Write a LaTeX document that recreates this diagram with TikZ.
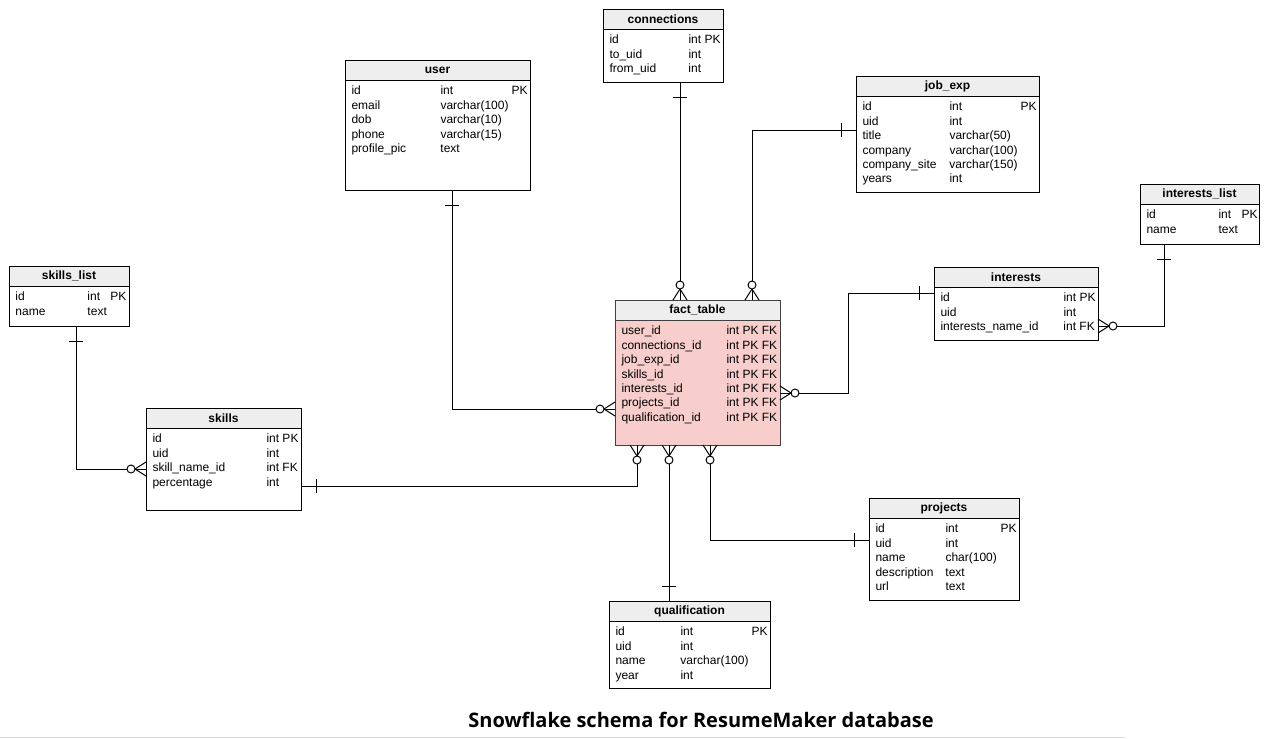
\documentclass[tikz,border=0pt]{standalone}
\usepackage{fontspec}
\setmainfont{Liberation Sans}
\newfontfamily\titlefont{Open Sans}
\definecolor{hdgray}{HTML}{EEEEEE}
\definecolor{factpink}{HTML}{F8CECC}
\setlength\tabcolsep{0pt}
\newcommand\tblfont{\fontsize{12}{14.4}\selectfont}

\begin{document}
\begin{tikzpicture}[x=1pt, y=-1pt, line width=1pt,
  tbl/.style={draw, fill=white, inner sep=0pt, outer sep=0pt},
  tblhead/.style={draw, fill=hdgray, inner sep=0pt, outer sep=0pt, minimum height=20pt, anchor=north, font=\tblfont\bfseries},
  tblrows/.style={anchor=north west, inner xsep=6pt, inner ysep=4.3pt, font=\tblfont},
  oneend/.pic={\draw (15,-7) -- (15,7);},
  manyopt/.pic={\draw (0,-7) -- (11,0) -- (0,7); \draw[fill=white] (15,0) circle (4pt);}
]
\fill[white] (0,0) rectangle (1270,739);
\useasboundingbox (0,0) rectangle (1270,739);

% tables
\node[tbl, minimum width=185pt, minimum height=130pt] (user) at (437.5,125) {};
\node[tblhead, minimum width=185pt] (userhead) at (user.north) {user};
\node[tblrows] at (userhead.south west) {\begin{tabular}{p{89pt}p{71pt}r}
id & int & PK\\ email & varchar(100) & \\ dob & varchar(10) & \\ phone & varchar(15) & \\ profile\_pic & text &
\end{tabular}};

\node[tbl, minimum width=120pt, minimum height=73pt] (connections) at (663,45.5) {};
\node[tblhead, minimum width=120pt] (connectionshead) at (connections.north) {connections};
\node[tblrows] at (connectionshead.south west) {\begin{tabular}{p{79pt}l}
id & int PK\\ to\_uid & int\\ from\_uid & int
\end{tabular}};

\node[tbl, minimum width=183pt, minimum height=116pt] (job_exp) at (947.5,134) {};
\node[tblhead, minimum width=183pt] (job_exphead) at (job_exp.north) {job\_exp};
\node[tblrows] at (job_exphead.south west) {\begin{tabular}{p{87pt}p{71pt}r}
id & int & PK\\ uid & int & \\ title & varchar(50) & \\ company & varchar(100) & \\ company\_site & varchar(150) & \\ years & int &
\end{tabular}};

\node[tbl, minimum width=119pt, minimum height=60pt] (interests_list) at (1199.5,214) {};
\node[tblhead, minimum width=119pt] (interests_listhead) at (interests_list.north) {interests\_list};
\node[tblrows] at (interests_listhead.south west) {\begin{tabular}{p{72pt}p{23pt}l}
id & int & PK\\ name & text &
\end{tabular}};

\node[tbl, minimum width=120pt, minimum height=60pt] (skills_list) at (69,296) {};
\node[tblhead, minimum width=120pt] (skills_listhead) at (skills_list.north) {skills\_list};
\node[tblrows] at (skills_listhead.south west) {\begin{tabular}{p{72pt}p{23pt}l}
id & int & PK\\ name & text &
\end{tabular}};

\node[tbl, minimum width=155pt, minimum height=102pt] (skills) at (223.5,459) {};
\node[tblhead, minimum width=155pt] (skillshead) at (skills.north) {skills};
\node[tblrows] at (skillshead.south west) {\begin{tabular}{p{114pt}l}
id & int PK\\ uid & int\\ skill\_name\_id & int FK\\ percentage & int
\end{tabular}};

\node[tbl, draw=black!75, fill=factpink, minimum width=165pt, minimum height=145pt] (fact) at (697.5,372.5) {};
\node[tblhead, draw=black!75, minimum width=165pt] (facthead) at (fact.north) {fact\_table};
\node[tblrows] at (facthead.south west) {\begin{tabular}{p{105pt}l}
user\_id & int PK FK\\ connections\_id & int PK FK\\ job\_exp\_id & int PK FK\\ skills\_id & int PK FK\\
interests\_id & int PK FK\\ projects\_id & int PK FK\\ qualification\_id & int PK FK
\end{tabular}};

\node[tbl, minimum width=164pt, minimum height=73pt] (interests) at (1016,303.5) {};
\node[tblhead, minimum width=164pt] (interestshead) at (interests.north) {interests};
\node[tblrows] at (interestshead.south west) {\begin{tabular}{p{123pt}l}
id & int PK\\ uid & int\\ interests\_name\_id & int FK
\end{tabular}};

\node[tbl, minimum width=150pt, minimum height=102pt] (projects) at (944,549) {};
\node[tblhead, minimum width=150pt] (projectshead) at (projects.north) {projects};
\node[tblrows] at (projectshead.south west) {\begin{tabular}{p{70pt}p{55pt}r}
id & int & PK\\ uid & int & \\ name & char(100) & \\ description & text & \\ url & text &
\end{tabular}};

\node[tbl, minimum width=161pt, minimum height=87pt] (qualification) at (689.5,644.5) {};
\node[tblhead, minimum width=161pt] (qualificationhead) at (qualification.north) {qualification};
\node[tblrows] at (qualificationhead.south west) {\begin{tabular}{p{65pt}p{71pt}r}
id & int & PK\\ uid & int & \\ name & varchar(100) & \\ year & int &
\end{tabular}};

% relations
\draw ([xshift=14.5pt]user.south) |- ([yshift=-36.5pt]fact.west);
\pic[rotate=-90] at ([xshift=14.5pt]user.south) {oneend};
\pic[rotate=180] at ([yshift=-36.5pt]fact.west) {manyopt};

\draw ([xshift=17pt]connections.south) -- ([xshift=17pt]connections.south |- fact.north);
\pic[rotate=-90] at ([xshift=17pt]connections.south) {oneend};
\pic[rotate=90] at ([xshift=17pt]connections.south |- fact.north) {manyopt};

\draw ([yshift=4pt]job_exp.west) -| ([xshift=54.5pt]fact.north);
\pic[rotate=180] at ([yshift=4pt]job_exp.west) {oneend};
\pic[rotate=90] at ([xshift=54.5pt]fact.north) {manyopt};

\draw ([yshift=10.5pt]interests.west) -- ++(-86,0) |- ([yshift=-20.5pt]fact.east);
\pic[rotate=180] at ([yshift=10.5pt]interests.west) {oneend};
\pic at ([yshift=-20.5pt]fact.east) {manyopt};

\draw ([xshift=-35.5pt]interests_list.south) |- ([yshift=-22.5pt]interests.east);
\pic[rotate=-90] at ([xshift=-35.5pt]interests_list.south) {oneend};
\pic at ([yshift=-22.5pt]interests.east) {manyopt};

\draw ([xshift=7pt]skills_list.south) |- ([yshift=-10pt]skills.west);
\pic[rotate=-90] at ([xshift=7pt]skills_list.south) {oneend};
\pic[rotate=180] at ([yshift=-10pt]skills.west) {manyopt};

\draw ([yshift=-27pt]skills.east) -| ([xshift=-60.5pt]fact.south);
\pic at ([yshift=-27pt]skills.east) {oneend};
\pic[rotate=-90] at ([xshift=-60.5pt]fact.south) {manyopt};

\draw ([xshift=-20.5pt]qualification.north) -- ([xshift=-20.5pt]qualification.north |- fact.south);
\pic[rotate=90] at ([xshift=-20.5pt]qualification.north) {oneend};
\pic[rotate=-90] at ([xshift=-20.5pt]qualification.north |- fact.south) {manyopt};

\draw ([yshift=9pt]projects.west) -| ([xshift=12.5pt]fact.south);
\pic[rotate=180] at ([yshift=9pt]projects.west) {oneend};
\pic[rotate=-90] at ([xshift=12.5pt]fact.south) {manyopt};

\node[font=\titlefont\bfseries\fontsize{20}{23}\selectfont] (title) at (701,720) {Snowflake schema for ResumeMaker database};
\draw[gray!30] (0,737.5) -- (1125,737.5);

\end{tikzpicture}
\end{document}
